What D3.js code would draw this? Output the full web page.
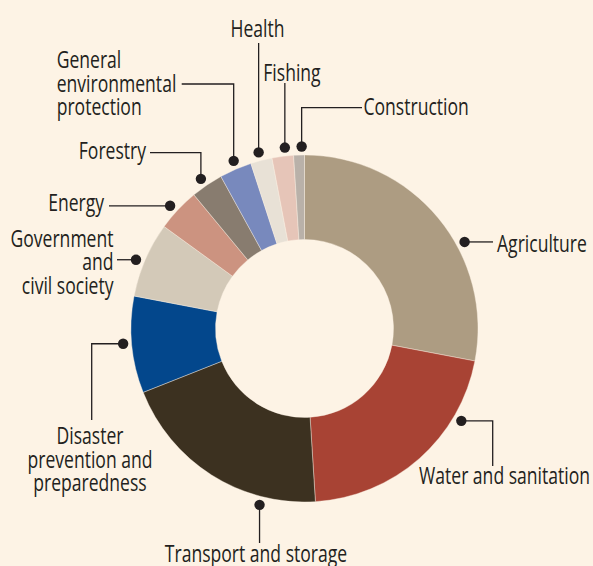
<!DOCTYPE html>
<html>
<head>
<meta charset="utf-8">
<script src="https://cdn.jsdelivr.net/npm/d3@7"></script>
<style>
  html, body { margin: 0; padding: 0; background: #fdf3e5; }
  svg { display: block; }
  text { font-family: "Open Sans", "Noto Sans", sans-serif; fill: #231f20; }
</style>
</head>
<body>
<div id="chart"></div>
<script>
// ---- Data ----
const categories = ["Agriculture", "Water and sanitation", "Transport and storage",
  "Disaster prevention and preparedness", "Government and civil society", "Energy",
  "Forestry", "General environmental protection", "Health", "Fishing", "Construction"];
const values = [28, 21, 20, 9, 7, 4, 3, 3, 2, 2, 1];
const colors = ["#ad9c82", "#a84334", "#3c3120", "#03478c", "#d3c9b8", "#cc9380",
  "#887c6f", "#7889bd", "#e8e1d6", "#e6c5b8", "#b9b1a9"];

// ---- Layout (annotation placement) ----
const labelLines = [
  ["Agriculture"], ["Water and sanitation"], ["Transport and storage"],
  ["Disaster", "prevention and", "preparedness"], ["Government", "and", "civil society"],
  ["Energy"], ["Forestry"], ["General", "environmental", "protection"],
  ["Health"], ["Fishing"], ["Construction"]
];
const dotAngles = [61.6, 120.5, 194.3, 265.2, 292.2, 312.4, 325.3, 337.1, 345.4, 353.8, 359.1];
const leaders = [
  [["h", 493]],
  [["h", 492.7], ["v", 466]],
  [["v", 543]],
  [["h", 91.7], ["v", 420]],
  [["h", 117]],
  [["h", 109]],
  [["v", 152.7], ["h", 150]],
  [["v", 84], ["h", 181.7]],
  [["v", 43]],
  [["v", 83]],
  [["v", 107.7], ["h", 362]]
];
const textPos = [
  {x: 497, y: 252, a: "start"},
  {x: 590, y: 484, a: "end"},
  {x: 256, y: 561.5, a: "middle"},
  {x: 90, y: 444, a: "middle"},
  {x: 113.5, y: 246.7, a: "end"},
  {x: 104, y: 211, a: "end"},
  {x: 146, y: 158.5, a: "end"},
  {x: 56.7, y: 68, a: "start"},
  {x: 257.5, y: 37, a: "middle"},
  {x: 263.3, y: 81, a: "start"},
  {x: 363.5, y: 115, a: "start"}
];

const W = 593, H = 566;
const cx = 304.5, cy = 328.5, rOuter = 173.5, rInner = 89, rDot = 182;
const fontSize = 23.5, lineH = 23.6;
const refWidth = 171; // width of "Water and sanitation" in the reference

const svg = d3.select("#chart").append("svg").attr("width", W).attr("height", H);
svg.append("rect").attr("width", W).attr("height", H).attr("fill", "#fdf3e5");

// horizontal compression factor to mimic a condensed face
const probe = svg.append("text").attr("font-size", fontSize).text("Water and sanitation");
const k = refWidth / probe.node().getComputedTextLength();
probe.remove();

const data = categories.map((c, i) => ({name: c, value: values[i], i}));
const pie = d3.pie().value(d => d.value).sort(null);
const arc = d3.arc().innerRadius(rInner).outerRadius(rOuter);
const g = svg.append("g").attr("transform", `translate(${cx},${cy})`);

g.selectAll("path.slice").data(pie(data)).join("path")
  .attr("class", "slice")
  .attr("d", arc)
  .attr("fill", d => colors[d.data.i])
  .attr("stroke", "#fdf3e5")
  .attr("stroke-width", 0.4);

const ann = svg.append("g");
data.forEach((d, i) => {
  const a = dotAngles[i] * Math.PI / 180;
  const dx = cx + rDot * Math.sin(a), dy = cy - rDot * Math.cos(a);
  let pts = [[dx, dy]];
  let px = dx, py = dy;
  leaders[i].forEach(([kk, v]) => { if (kk === "h") px = v; else py = v; pts.push([px, py]); });
  ann.append("path").attr("d", d3.line()(pts)).attr("fill", "none")
    .attr("stroke", "#231f20").attr("stroke-width", 1.3);
  ann.append("circle").attr("cx", dx).attr("cy", dy).attr("r", 5.2).attr("fill", "#231f20");
  const t = ann.append("text")
    .attr("transform", `translate(${textPos[i].x},${textPos[i].y}) scale(${k},1)`)
    .attr("text-anchor", textPos[i].a).attr("font-size", fontSize);
  labelLines[i].forEach((ln, j) => {
    t.append("tspan").attr("x", 0).attr("y", j * lineH).text(ln);
  });
});
</script>
</body>
</html>
